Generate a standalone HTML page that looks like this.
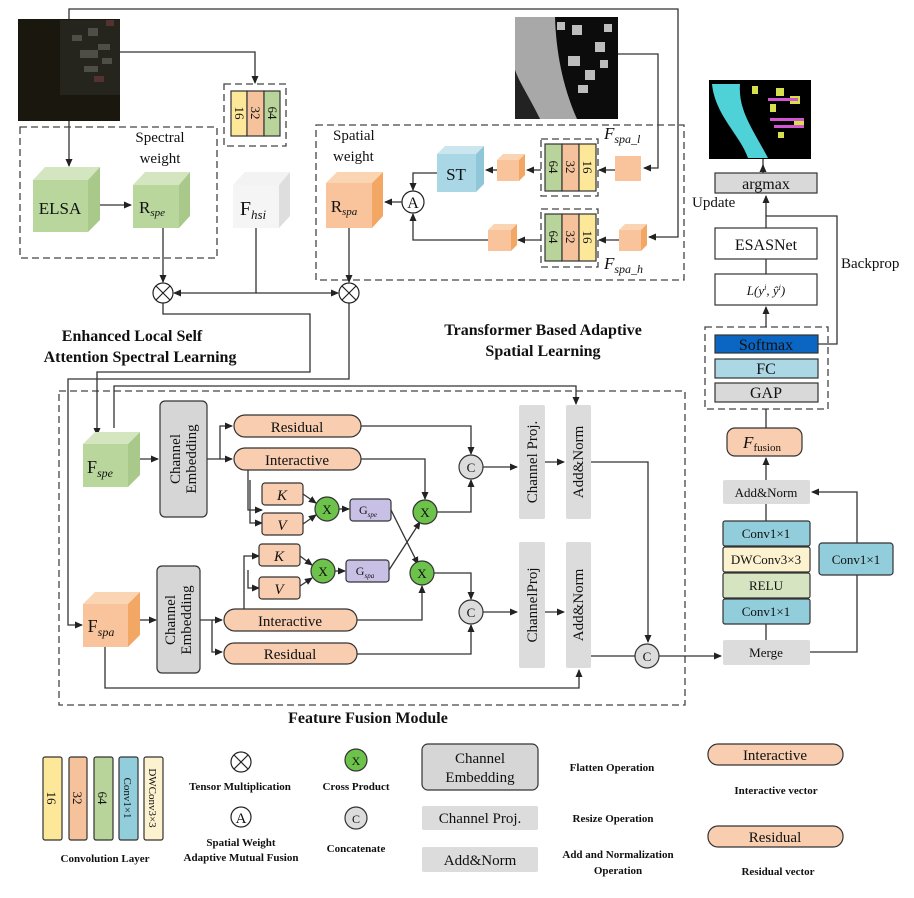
<!DOCTYPE html>
<html><head><meta charset="utf-8"><style>
html,body{margin:0;padding:0;background:#fff}
svg{display:block}
text{font-family:"Liberation Serif",serif;fill:#111}
</style></head><body>
<svg width="914" height="898" viewBox="0 0 914 898" xmlns="http://www.w3.org/2000/svg">
<defs>
<marker id="ar" markerWidth="8" markerHeight="8" refX="7" refY="4" orient="auto" markerUnits="userSpaceOnUse"><path d="M0,0.5 L8,4 L0,7.5 Z" fill="#222"/></marker>
</defs>
<g stroke="#333" stroke-width="1.3" fill="none">
<path d="M69,19 V9 H678 V237 H649" marker-end="url(#ar)"/>
<path d="M120,52 H255 V83" marker-end="url(#ar)"/>
<path d="M69,121 V166" marker-end="url(#ar)"/>
<path d="M618,54 H658 V168 H644" marker-end="url(#ar)"/>
<g stroke-dasharray="7,4" stroke="#444">
<rect x="20" y="127" width="197" height="131"/>
<rect x="224" y="84" width="62" height="62"/>
<rect x="316" y="125" width="368" height="155"/>
<rect x="541" y="139" width="57" height="57"/>
<rect x="541" y="209" width="57" height="58"/>
<rect x="705" y="327" width="123" height="82"/>
<rect x="59" y="391" width="626" height="314"/>
</g>
<path d="M96,205 H131" marker-end="url(#ar)"/>
<path d="M163,228 V282" marker-end="url(#ar)"/>
<path d="M256,228 V293 H174" marker-end="url(#ar)"/>
<path d="M256,293 H338" marker-end="url(#ar)"/>
<path d="M349,228 V282" marker-end="url(#ar)"/>
<path d="M163,303 V314 H310 V372 H97 V435" marker-end="url(#ar)"/>
<path d="M349,303 V379 H68 V625 H82" marker-end="url(#ar)"/>
<path d="M114,428 V386 H576 V404" marker-end="url(#ar)"/>
<path d="M437,173 H413 V190" marker-end="url(#ar)"/>
<path d="M488,240 H413 V214" marker-end="url(#ar)"/>
<path d="M402,202 H385" marker-end="url(#ar)"/>
<path d="M497,170 H486" marker-end="url(#ar)"/>
<path d="M541,170 H527" marker-end="url(#ar)"/>
<path d="M615,170 H599" marker-end="url(#ar)"/>
<path d="M541,240 H518" marker-end="url(#ar)"/>
<path d="M619,240 H599" marker-end="url(#ar)"/>
<path d="M763,159 V193"/>
<path d="M763,173 V165" marker-end="url(#ar)"/>
<path d="M766,228 V216 H837 V344 H818"/>
<path d="M766,216 V196" marker-end="url(#ar)"/>
<path d="M766,259 V274"/>
<path d="M766,327 V307" marker-end="url(#ar)"/>
<path d="M766,409 V428"/>
<path d="M766,480 V458" marker-end="url(#ar)"/>
<path d="M766,504 V521"/>
<path d="M766,624 V640"/>
<path d="M810,652 H857 V492 H812" marker-end="url(#ar)"/>
<path d="M659,656 H721" marker-end="url(#ar)"/>
<path d="M140,459 H158" marker-end="url(#ar)"/>
<path d="M207,459 H220 V426 H232" marker-end="url(#ar)"/>
<path d="M220,459 H232" marker-end="url(#ar)"/>
<path d="M248,470 V510 H262" marker-end="url(#ar)"/>
<path d="M250,480 V523 H262" marker-end="url(#ar)"/>
<path d="M303,494 L316,503" marker-end="url(#ar)"/>
<path d="M303,524 L316,515" marker-end="url(#ar)"/>
<path d="M339,509 H349" marker-end="url(#ar)"/>
<path d="M361,426 H471 V454" marker-end="url(#ar)"/>
<path d="M361,459 H425 V499" marker-end="url(#ar)"/>
<path d="M437,512 H471 V480" marker-end="url(#ar)"/>
<path d="M483,467 H517" marker-end="url(#ar)"/>
<path d="M545,462 H564" marker-end="url(#ar)"/>
<path d="M591,462 H648 V642" marker-end="url(#ar)"/>
<path d="M391,510 L418,564" marker-end="url(#ar)"/>
<path d="M389,570 L420,522" marker-end="url(#ar)"/>
<path d="M140,620 H156" marker-end="url(#ar)"/>
<path d="M200,620 H212 V652 H222" marker-end="url(#ar)"/>
<path d="M212,620 H222" marker-end="url(#ar)"/>
<path d="M244,609 V556 H259" marker-end="url(#ar)"/>
<path d="M248,570 V588 H259" marker-end="url(#ar)"/>
<path d="M300,556 L312,565" marker-end="url(#ar)"/>
<path d="M300,586 L312,578" marker-end="url(#ar)"/>
<path d="M335,571 H345" marker-end="url(#ar)"/>
<path d="M357,620 H422 V586" marker-end="url(#ar)"/>
<path d="M434,573 H471 V599" marker-end="url(#ar)"/>
<path d="M357,654 H471 V625" marker-end="url(#ar)"/>
<path d="M483,612 H517" marker-end="url(#ar)"/>
<path d="M545,612 H564" marker-end="url(#ar)"/>
<path d="M591,656 H635" />
<path d="M105,647 V688 H579 V670" marker-end="url(#ar)"/>
</g>

<!-- images -->
<rect x="18" y="19" width="102" height="102" fill="#1a170f"/>
<rect x="60" y="20" width="60" height="75" fill="#25251d"/>
<g fill="#4e4e48"><rect x="72" y="35" width="10" height="6"/><rect x="88" y="28" width="10" height="8"/><rect x="80" y="50" width="18" height="8"/><rect x="98" y="44" width="12" height="6"/><rect x="84" y="66" width="14" height="6"/><rect x="102" y="58" width="10" height="6"/></g>
<g fill="#553232"><rect x="94" y="76" width="10" height="6"/><rect x="106" y="20" width="8" height="6"/></g>
<rect x="515" y="17" width="103" height="102" fill="#0c0c0c"/>
<path d="M515,17 H555 C556,50 562,85 577,119 H540 C528,95 518,80 515,70 Z" fill="#a8a8a8"/>
<path d="M515,70 C518,80 528,95 540,119 H515 Z" fill="#222"/>
<g fill="#bdbdbd"><rect x="557" y="22" width="8" height="8"/><rect x="572" y="25" width="10" height="10"/><rect x="595" y="42" width="10" height="10"/><rect x="568" y="56" width="12" height="10"/><rect x="585" y="70" width="10" height="10"/><rect x="578" y="85" width="10" height="8"/><rect x="600" y="60" width="8" height="8"/><rect x="604" y="24" width="8" height="8"/></g>
<rect x="709" y="80" width="102" height="79" fill="#000"/>
<path d="M712,84 H740 C738,110 752,128 768,158 H748 C740,135 715,115 712,84Z" fill="#4fd1d8"/>
<g fill="#d7e04a"><rect x="752" y="86" width="6" height="8"/><rect x="776" y="88" width="8" height="8"/><rect x="790" y="96" width="10" height="8"/><rect x="794" y="118" width="10" height="8"/><rect x="770" y="104" width="6" height="8"/><rect x="778" y="132" width="6" height="6"/></g>
<g fill="#d455d4"><rect x="768" y="98" width="30" height="3"/><rect x="770" y="118" width="34" height="3"/><rect x="774" y="125" width="30" height="3"/></g>

<g stroke="#333" stroke-width="1.2">
<rect x="231" y="91" width="16" height="45" fill="#fde89a"/><rect x="247" y="91" width="17" height="45" fill="#f5c29b"/><rect x="264" y="91" width="16" height="45" fill="#b8d49a"/>
<rect x="545" y="144" width="17" height="47" fill="#b8d49a"/><rect x="562" y="144" width="17" height="47" fill="#f5c29b"/><rect x="579" y="144" width="17" height="47" fill="#fde89a"/>
<rect x="545" y="214" width="17" height="47" fill="#b8d49a"/><rect x="562" y="214" width="17" height="47" fill="#f5c29b"/><rect x="579" y="214" width="17" height="47" fill="#fde89a"/>
</g>
<g font-size="13" text-anchor="middle">
<text transform="translate(239,113) rotate(90)" dy="4">16</text>
<text transform="translate(255,113) rotate(90)" dy="4">32</text>
<text transform="translate(272,113) rotate(90)" dy="4">64</text>
<text transform="translate(553,167) rotate(90)" dy="4">64</text><text transform="translate(570,167) rotate(90)" dy="4">32</text><text transform="translate(587,167) rotate(90)" dy="4">16</text>
<text transform="translate(553,237) rotate(90)" dy="4">64</text><text transform="translate(570,237) rotate(90)" dy="4">32</text><text transform="translate(587,237) rotate(90)" dy="4">16</text>
</g>

<g>
<polygon points="33,180 45,167 100,167 88,180" fill="#d3e6c0"/><polygon points="88,180 100,167 100,220 88,232" fill="#a9c98a"/><rect x="33" y="180" width="55" height="52" fill="#b9d79d"/>
<polygon points="133,185 145,172 190,172 179,185" fill="#d3e6c0"/><polygon points="179,185 190,172 190,216 179,228" fill="#a9c98a"/><rect x="133" y="185" width="46" height="43" fill="#b9d79d"/>
<polygon points="233,185 245,172 290,172 279,185" fill="#f3f3f3"/><polygon points="279,185 290,172 290,216 279,228" fill="#dedede"/><rect x="233" y="185" width="46" height="43" fill="#f5f5f5"/>
<polygon points="326,183 337,172 383,172 372,183" fill="#fbd4b4"/><polygon points="372,183 383,172 383,216 372,228" fill="#f3a764"/><rect x="326" y="183" width="46" height="45" fill="#f9c39b"/>
<polygon points="437,154 445,146 484,146 476,154" fill="#cce6ef"/><polygon points="476,154 484,146 484,184 476,192" fill="#8fc6d8"/><rect x="437" y="154" width="39" height="38" fill="#a9d7e6"/>
<polygon points="497,160 503,154 525,154 519,160" fill="#fbd4b4"/><polygon points="519,160 525,154 525,175 519,181" fill="#f3a764"/><rect x="497" y="160" width="22" height="21" fill="#f9c39b"/>
<rect x="615" y="156" width="26" height="25" fill="#f9c39b"/>
<polygon points="488,230 494,224 517,224 511,230" fill="#fbd4b4"/><polygon points="511,230 517,224 517,245 511,251" fill="#f3a764"/><rect x="488" y="230" width="23" height="21" fill="#f9c39b"/>
<polygon points="619,230 625,224 647,224 641,230" fill="#fbd4b4"/><polygon points="641,230 647,224 647,245 641,251" fill="#f3a764"/><rect x="619" y="230" width="22" height="21" fill="#f9c39b"/>
<polygon points="83,444 95,432 140,432 128,444" fill="#d3e6c0"/><polygon points="128,444 140,432 140,475 128,487" fill="#a9c98a"/><rect x="83" y="444" width="45" height="43" fill="#b9d79d"/>
<polygon points="83,604 95,592 140,592 128,604" fill="#fbd4b4"/><polygon points="128,604 140,592 140,635 128,647" fill="#f3a764"/><rect x="83" y="604" width="45" height="43" fill="#f9c39b"/>
</g>
<g font-size="17" text-anchor="middle">
<text x="60" y="214">ELSA</text>
<text x="152" y="213">R<tspan font-size="11" font-style="italic" dy="3">spe</tspan></text>
<text x="253" y="215" font-size="20">F<tspan font-size="13" font-style="italic" dy="4">hsi</tspan></text>
<text x="344" y="212">R<tspan font-size="11" font-style="italic" dy="3">spa</tspan></text>
<text x="456" y="180">ST</text>
<text x="100" y="473" font-size="18">F<tspan font-size="12" font-style="italic" dy="4">spe</tspan></text>
<text x="101" y="632" font-size="18">F<tspan font-size="12" font-style="italic" dy="4">spa</tspan></text>
</g>
<g font-size="15" text-anchor="middle">
<text x="160" y="142">Spectral</text><text x="160" y="163">weight</text>
</g>
<g font-size="15"><text x="333" y="140">Spatial</text><text x="333" y="161">weight</text>
<text x="604" y="139" font-size="17" font-style="italic">F<tspan font-size="12" dy="4">spa_l</tspan></text>
<text x="604" y="269" font-size="17" font-style="italic">F<tspan font-size="12" dy="4">spa_h</tspan></text>
</g>

<g stroke="#222" stroke-width="1.2" fill="#fff">
<circle cx="163" cy="293" r="10"/><path d="M156,286 L170,300 M170,286 L156,300"/>
<circle cx="349" cy="293" r="10"/><path d="M342,286 L356,300 M356,286 L342,300"/>
<circle cx="413" cy="202" r="11"/>
<circle cx="241" cy="762" r="10"/><path d="M234,755 L248,769 M248,755 L234,769"/>
<circle cx="241" cy="817" r="10"/>
</g>
<text x="413" y="208" font-size="16" text-anchor="middle">A</text>
<text x="241" y="823" font-size="15" text-anchor="middle">A</text>

<g font-size="16" font-weight="bold" text-anchor="middle">
<text x="132" y="341">Enhanced Local Self</text>
<text x="140" y="362">Attention Spectral Learning</text>
<text x="543" y="335">Transformer Based Adaptive</text>
<text x="543" y="356">Spatial Learning</text>
<text x="368" y="723">Feature Fusion Module</text>
</g>

<g stroke="#333" stroke-width="1.2">
<rect x="715" y="173" width="102" height="20" fill="#d9d9d9"/>
<rect x="715" y="228" width="102" height="31" fill="#fff"/>
<rect x="715" y="274" width="102" height="31" fill="#fff"/>
<rect x="715" y="335" width="103" height="18" fill="#0a66c2"/>
<rect x="715" y="359" width="103" height="19" fill="#acd8e6"/>
<rect x="715" y="383" width="103" height="19" fill="#d9d9d9"/>
<rect x="727" y="428" width="75" height="28" rx="8" fill="#f9cdb0"/>
<rect x="723" y="521" width="87" height="25" rx="2" fill="#92cddb"/>
<rect x="723" y="547" width="87" height="25" rx="2" fill="#fdf2cf"/>
<rect x="723" y="573" width="87" height="25" rx="2" fill="#d6e4c2"/>
<rect x="723" y="599" width="87" height="25" rx="2" fill="#92cddb"/>
<rect x="819" y="543" width="74" height="32" rx="3" fill="#92cddb"/>
</g>
<rect x="723" y="480" width="87" height="24" rx="2" fill="#dcdcdc"/>
<rect x="723" y="640" width="87" height="25" rx="2" fill="#dcdcdc"/>
<g font-size="16" text-anchor="middle">
<text x="766" y="189">argmax</text>
<text x="766" y="250">ESASNet</text>
<text x="766" y="295" font-size="13" font-style="italic">L(y<tspan font-size="8" dy="-5">i</tspan><tspan dy="5">, ŷ</tspan><tspan font-size="8" dy="-5">i</tspan><tspan dy="5">)</tspan></text>
<text x="766" y="350">Softmax</text>
<text x="766" y="374">FC</text>
<text x="766" y="398">GAP</text>
<text x="762" y="448" font-size="17" font-style="italic">F<tspan font-size="11" font-style="normal" dy="3">fusion</tspan></text>
<text x="766" y="497" font-size="13">Add&amp;Norm</text>
<text x="766" y="538" font-size="13">Conv1×1</text>
<text x="766" y="564" font-size="13">DWConv3×3</text>
<text x="766" y="590" font-size="13">RELU</text>
<text x="766" y="616" font-size="13">Conv1×1</text>
<text x="856" y="564" font-size="13">Conv1×1</text>
<text x="766" y="657" font-size="13">Merge</text>
</g>
<text x="692" y="207" font-size="15">Update</text>
<text x="841" y="268" font-size="15">Backprop</text>

<g stroke="#333" stroke-width="1.2">
<rect x="160" y="401" width="47" height="116" rx="5" fill="#d6d6d6"/>
<rect x="157" y="566" width="43" height="107" rx="5" fill="#d6d6d6"/>
<rect x="234" y="415" width="127" height="22" rx="11" fill="#f9cdb0"/>
<rect x="234" y="448" width="127" height="22" rx="11" fill="#f9cdb0"/>
<rect x="224" y="609" width="133" height="22" rx="11" fill="#f9cdb0"/>
<rect x="224" y="643" width="133" height="21" rx="10" fill="#f9cdb0"/>
<rect x="262" y="483" width="41" height="22" rx="3" fill="#f9cdb0"/>
<rect x="262" y="513" width="41" height="22" rx="3" fill="#f9cdb0"/>
<rect x="259" y="544" width="41" height="22" rx="3" fill="#f9cdb0"/>
<rect x="259" y="577" width="41" height="22" rx="3" fill="#f9cdb0"/>
<rect x="350" y="499" width="41" height="22" rx="3" fill="#c9c0e6"/>
<rect x="346" y="560" width="43" height="22" rx="3" fill="#c9c0e6"/>
<circle cx="327" cy="509" r="12" fill="#6cc24a"/><circle cx="425" cy="512" r="12" fill="#6cc24a"/>
<circle cx="323" cy="571" r="12" fill="#6cc24a"/><circle cx="422" cy="573" r="12" fill="#6cc24a"/>
<circle cx="471" cy="467" r="12" fill="#dcdcdc"/><circle cx="471" cy="612" r="12" fill="#dcdcdc"/>
<circle cx="647" cy="656" r="12" fill="#dcdcdc"/>
<circle cx="356" cy="760" r="11" fill="#6cc24a"/><circle cx="356" cy="818" r="11" fill="#dcdcdc"/>
<rect x="422" y="744" width="116" height="46" rx="6" fill="#d6d6d6"/>
<rect x="708" y="744" width="135" height="21" rx="10" fill="#f9cdb0"/>
<rect x="708" y="826" width="135" height="21" rx="10" fill="#f9cdb0"/>
<rect x="43" y="757" width="19" height="83" rx="2" fill="#fde89a"/>
<rect x="69" y="757" width="18" height="83" rx="2" fill="#f5c29b"/>
<rect x="94" y="757" width="19" height="83" rx="2" fill="#b8d49a"/>
<rect x="119" y="757" width="19" height="83" rx="2" fill="#92cddb"/>
<rect x="144" y="757" width="19" height="83" rx="2" fill="#fdf2cf"/>
</g>
<g fill="#dcdcdc">
<rect x="519" y="405" width="26" height="114" rx="2"/><rect x="566" y="405" width="25" height="114" rx="2"/>
<rect x="519" y="542" width="26" height="126" rx="2"/><rect x="566" y="542" width="25" height="126" rx="2"/>
<rect x="422" y="806" width="116" height="24" rx="2"/><rect x="422" y="847" width="116" height="25" rx="2"/>
</g>
<g font-size="15" text-anchor="middle">
<text transform="translate(183,459) rotate(-90)" dy="-3">Channel</text>
<text transform="translate(183,459) rotate(-90)" dy="13">Embedding</text>
<text transform="translate(178,620) rotate(-90)" dy="-3">Channel</text>
<text transform="translate(178,620) rotate(-90)" dy="13">Embedding</text>
<text transform="translate(532,462) rotate(-90)" dy="5">Channel Proj.</text>
<text transform="translate(578,462) rotate(-90)" dy="5">Add&amp;Norm</text>
<text transform="translate(532,605) rotate(-90)" dy="5">ChannelProj</text>
<text transform="translate(578,605) rotate(-90)" dy="5">Add&amp;Norm</text>
<text x="297" y="432">Residual</text><text x="297" y="465">Interactive</text>
<text x="290" y="626">Interactive</text><text x="290" y="659">Residual</text>
<g font-style="italic"><text x="282" y="500">K</text><text x="282" y="530">V</text><text x="279" y="561">K</text><text x="279" y="594">V</text></g>
<g font-size="13"><text x="327" y="514">X</text><text x="425" y="517">X</text><text x="323" y="576">X</text><text x="422" y="578">X</text>
<text x="471" y="472">C</text><text x="471" y="617">C</text><text x="647" y="661">C</text>
<text x="356" y="765" font-size="12">X</text><text x="356" y="823" font-size="12">C</text></g>
<text x="368" y="514" font-size="12">G<tspan font-size="7" font-style="italic" dy="3">spe</tspan></text>
<text x="365" y="575" font-size="12">G<tspan font-size="7" font-style="italic" dy="3">spa</tspan></text>
<text x="480" y="763">Channel</text><text x="480" y="782">Embedding</text>
<text x="480" y="823">Channel Proj.</text>
<text x="480" y="865">Add&amp;Norm</text>
<text x="775" y="760">Interactive</text>
<text x="775" y="842">Residual</text>
</g>
<g font-size="13" text-anchor="middle">
<text transform="translate(52,798) rotate(90)" dy="5">16</text>
<text transform="translate(78,798) rotate(90)" dy="5">32</text>
<text transform="translate(103,798) rotate(90)" dy="5">64</text>
<text transform="translate(128,798) rotate(90)" dy="4" font-size="11">Conv1×1</text>
<text transform="translate(153,798) rotate(90)" dy="4" font-size="11">DWConv3×3</text>
</g>
<g font-size="11" font-weight="bold" text-anchor="middle">
<text x="105" y="862">Convolution Layer</text>
<text x="240" y="790">Tensor Multiplication</text>
<text x="241" y="846">Spatial Weight</text>
<text x="241" y="861">Adaptive Mutual Fusion</text>
<text x="356" y="790">Cross Product</text>
<text x="356" y="852">Concatenate</text>
<text x="612" y="771">Flatten Operation</text>
<text x="613" y="822">Resize Operation</text>
<text x="618" y="858">Add and Normalization</text>
<text x="618" y="874">Operation</text>
<text x="776" y="794">Interactive vector</text>
<text x="778" y="875">Residual vector</text>
</g>
</svg>
</body></html>
